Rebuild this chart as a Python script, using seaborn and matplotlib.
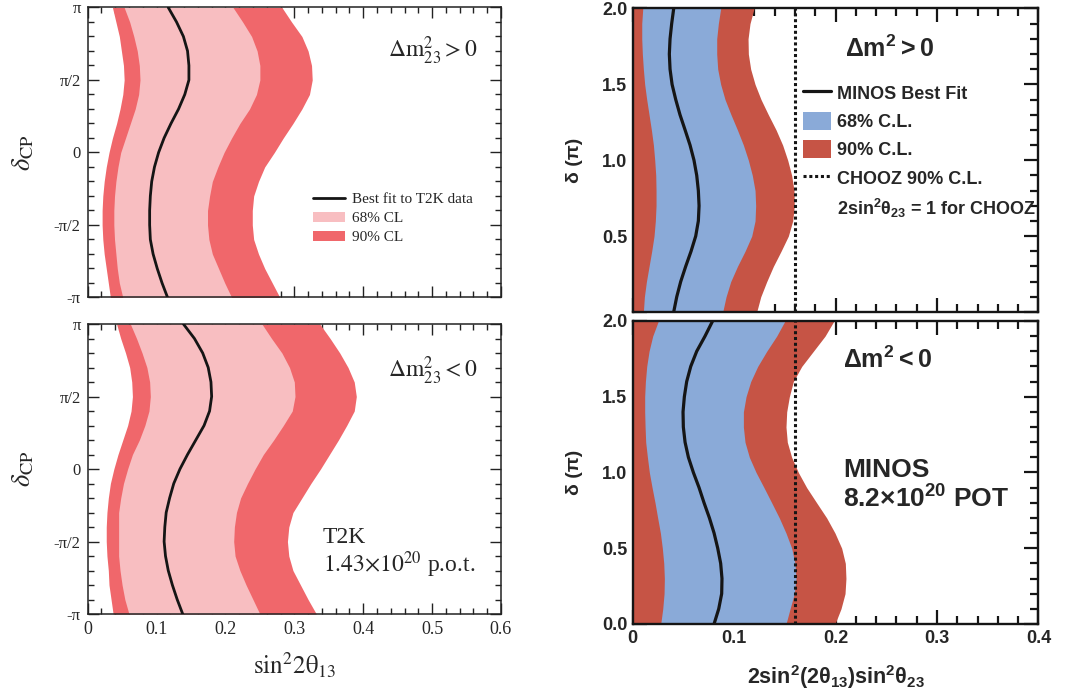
import numpy as np
import matplotlib
matplotlib.use("Agg")
import matplotlib.pyplot as plt
import seaborn as sns
from matplotlib.lines import Line2D
from matplotlib.patches import Patch
from matplotlib.ticker import MultipleLocator

sns.set_style("ticks")
plt.rcParams['font.family'] = ['Liberation Serif', 'DejaVu Serif']
plt.rcParams['mathtext.rm'] = 'Liberation Sans:bold'
plt.rcParams['mathtext.it'] = 'Liberation Sans:bold'
plt.rcParams['mathtext.bf'] = 'Liberation Sans:bold'

# ---------------- data: T2K (left) ----------------
# delta_CP in units of pi, from +1 to -1
t2k_delta_frac = [1.0, 0.9, 0.8, 0.7, 0.6, 0.5, 0.4, 0.3, 0.2, 0.1, 0.0,
                  -0.1, -0.2, -0.3, -0.4, -0.5, -0.6, -0.7, -0.8, -0.9, -1.0]

# normal hierarchy
t2k_nh_l90 = [0.036, 0.041, 0.046, 0.049, 0.052, 0.053, 0.051, 0.047, 0.042, 0.036, 0.031,
              0.027, 0.024, 0.022, 0.021, 0.021, 0.022, 0.024, 0.027, 0.030, 0.033]
t2k_nh_l68 = [0.053, 0.061, 0.067, 0.072, 0.075, 0.076, 0.074, 0.069, 0.062, 0.055, 0.048,
              0.044, 0.041, 0.039, 0.038, 0.038, 0.039, 0.041, 0.043, 0.046, 0.051]
t2k_nh_bf = [0.117, 0.129, 0.139, 0.145, 0.147, 0.147, 0.141, 0.132, 0.121, 0.111, 0.103,
             0.097, 0.093, 0.091, 0.090, 0.090, 0.091, 0.095, 0.101, 0.108, 0.116]
t2k_nh_r68 = [0.211, 0.225, 0.238, 0.246, 0.250, 0.250, 0.245, 0.235, 0.221, 0.209, 0.198,
              0.189, 0.181, 0.177, 0.174, 0.174, 0.176, 0.181, 0.190, 0.199, 0.209]
t2k_nh_r90 = [0.282, 0.296, 0.311, 0.320, 0.325, 0.326, 0.322, 0.311, 0.298, 0.284, 0.271,
              0.257, 0.248, 0.241, 0.239, 0.239, 0.241, 0.248, 0.257, 0.268, 0.279]

# inverted hierarchy
t2k_ih_l90 = [0.042, 0.048, 0.055, 0.061, 0.064, 0.065, 0.063, 0.058, 0.051, 0.044, 0.038,
              0.033, 0.030, 0.028, 0.027, 0.027, 0.028, 0.030, 0.031, 0.034, 0.037]
t2k_ih_l68 = [0.062, 0.071, 0.079, 0.086, 0.090, 0.091, 0.089, 0.083, 0.075, 0.065, 0.058,
              0.052, 0.048, 0.045, 0.045, 0.045, 0.045, 0.047, 0.050, 0.054, 0.060]
t2k_ih_bf = [0.139, 0.155, 0.167, 0.175, 0.179, 0.180, 0.177, 0.169, 0.157, 0.145, 0.134,
             0.125, 0.119, 0.114, 0.112, 0.111, 0.113, 0.117, 0.123, 0.130, 0.138]
t2k_ih_r68 = [0.253, 0.267, 0.282, 0.293, 0.300, 0.301, 0.297, 0.284, 0.270, 0.255, 0.243,
              0.232, 0.222, 0.216, 0.213, 0.212, 0.214, 0.221, 0.230, 0.240, 0.250]
t2k_ih_r90 = [0.337, 0.352, 0.366, 0.378, 0.387, 0.390, 0.387, 0.376, 0.364, 0.351, 0.338,
              0.324, 0.311, 0.298, 0.292, 0.290, 0.292, 0.298, 0.309, 0.320, 0.332]

# ---------------- data: MINOS (right) ----------------
minos_delta = [2.0, 1.9, 1.8, 1.7, 1.6, 1.5, 1.4, 1.3, 1.2, 1.1, 1.0,
               0.9, 0.8, 0.7, 0.6, 0.5, 0.4, 0.3, 0.2, 0.1, 0.0]

minos_nh_l68 = [0.0099, 0.0089, 0.0089, 0.0095, 0.0105, 0.0118, 0.0138, 0.0161, 0.0184, 0.0204, 0.0217,
                0.0227, 0.0230, 0.0230, 0.0223, 0.0210, 0.0187, 0.0161, 0.0135, 0.0115, 0.0105]
minos_nh_bf = [0.0404, 0.0384, 0.0368, 0.0361, 0.0368, 0.0388, 0.0424, 0.0466, 0.0516, 0.0565, 0.0604,
               0.0631, 0.0647, 0.0654, 0.0647, 0.0621, 0.0575, 0.0522, 0.0473, 0.0434, 0.0404]
minos_nh_r68 = [0.0867, 0.0844, 0.0828, 0.0828, 0.0838, 0.0867, 0.0910, 0.0969, 0.1032, 0.1091, 0.1140,
                0.1179, 0.1206, 0.1212, 0.1206, 0.1173, 0.1107, 0.1032, 0.0966, 0.0920, 0.0887]
minos_nh_r90 = [0.1196, 0.1156, 0.1137, 0.1140, 0.1163, 0.1206, 0.1265, 0.1337, 0.1413, 0.1478, 0.1528,
                0.1567, 0.1590, 0.1593, 0.1577, 0.1534, 0.1462, 0.1386, 0.1321, 0.1262, 0.1222]

minos_ih_l68 = [0.0253, 0.0197, 0.0161, 0.0138, 0.0125, 0.0118, 0.0118, 0.0122, 0.0128, 0.0145, 0.0164,
                0.0191, 0.0220, 0.0246, 0.0273, 0.0292, 0.0306, 0.0312, 0.0309, 0.0296, 0.0276]
minos_ih_bf = [0.0788, 0.0713, 0.0631, 0.0572, 0.0532, 0.0509, 0.0496, 0.0499, 0.0516, 0.0549, 0.0598,
               0.0654, 0.0703, 0.0756, 0.0802, 0.0838, 0.0867, 0.0880, 0.0877, 0.0848, 0.0802]
minos_ih_r68 = [0.1501, 0.1419, 0.1321, 0.1232, 0.1163, 0.1117, 0.1091, 0.1091, 0.1107, 0.1150, 0.1216,
                0.1294, 0.1370, 0.1445, 0.1511, 0.1567, 0.1600, 0.1610, 0.1593, 0.1551, 0.1511]
minos_ih_r90 = [0.1984, 0.1896, 0.1781, 0.1666, 0.1583, 0.1544, 0.1518, 0.1511, 0.1524, 0.1567, 0.1633,
                0.1715, 0.1813, 0.1912, 0.1994, 0.2060, 0.2096, 0.2102, 0.2093, 0.2053, 0.1994]

chooz_limit = 0.16

# tick labels
t2k_ytick_vals = [-1.0, -0.5, 0.0, 0.5, 1.0]
t2k_ytick_labels = ['-π', '-π/2', '0', 'π/2', 'π']
t2k_xtick_labels = ['0', '0.1', '0.2', '0.3', '0.4', '0.5', '0.6']
minos_xtick_labels = ['0', '0.1', '0.2', '0.3', '0.4']
minos_ytick_labels = ['0.0', '0.5', '1.0', '1.5', '2.0']

# ---------------- styles ----------------
T2K_68 = '#F8BEC1'
T2K_90 = '#F0676B'
MIN_68 = '#8AAAD8'
MIN_90 = '#C65445'

fig = plt.figure(figsize=(10.65, 6.91), dpi=100)
ax_lt = fig.add_axes([0.0823, 0.5695, 0.3881, 0.4197])
ax_lb = fig.add_axes([0.0823, 0.1114, 0.3881, 0.4197])
ax_rt = fig.add_axes([0.5941, 0.5485, 0.3810, 0.4392])
ax_rb = fig.add_axes([0.5941, 0.0970, 0.3810, 0.4385])

serif = dict(family='Liberation Serif', math_fontfamily='stix')
sans = dict(family='Liberation Sans', weight='bold', math_fontfamily='custom')

delta_rad = np.array(t2k_delta_frac) * np.pi


def t2k_panel(ax, l90, l68, bf, r68, r90, show_x):
    ax.fill_betweenx(delta_rad, l90, r90, color=T2K_90, lw=0, zorder=1)
    ax.fill_betweenx(delta_rad, l68, r68, color=T2K_68, lw=0, zorder=2)
    sns.lineplot(x=bf, y=delta_rad, orient='y', estimator=None, color='#151515',
                 lw=2.0, ax=ax, zorder=3)
    ax.set_xlim(0, 0.6)
    ax.set_ylim(-np.pi, np.pi)
    ax.set_yticks(np.array(t2k_ytick_vals) * np.pi)
    ax.set_yticklabels(t2k_ytick_labels, fontsize=12, family='Liberation Serif')
    ax.yaxis.set_minor_locator(MultipleLocator(np.pi / 10))
    ax.set_xticks([0, 0.1, 0.2, 0.3, 0.4, 0.5, 0.6])
    ax.xaxis.set_minor_locator(MultipleLocator(0.02))
    if show_x:
        ax.set_xticklabels(t2k_xtick_labels, fontsize=13, family='Liberation Serif')
        ax.set_xlabel(r'$\mathrm{sin^2 2\theta_{13}}$', fontsize=18, **serif)
        ax.xaxis.set_label_coords(0.5, -0.125)
    else:
        ax.set_xticklabels([])
        ax.set_xlabel('')
    ax.set_ylabel(r'$\delta_{\mathrm{CP}}$', fontsize=19, **serif)
    ax.yaxis.set_label_coords(-0.125, 0.5)
    ax.tick_params(which='both', direction='in', top=True, right=True,
                   width=1.0, color='#222222', pad=5)
    ax.tick_params(which='major', length=8)
    ax.tick_params(which='minor', length=4)
    for s in ax.spines.values():
        s.set_linewidth(1.1)
        s.set_color('#222222')


t2k_panel(ax_lt, t2k_nh_l90, t2k_nh_l68, t2k_nh_bf, t2k_nh_r68, t2k_nh_r90, False)
t2k_panel(ax_lb, t2k_ih_l90, t2k_ih_l68, t2k_ih_bf, t2k_ih_r68, t2k_ih_r90, True)

ax_lt.text(0.727, 0.826, r'$\Delta\mathrm{m}^2_{23} > 0$', transform=ax_lt.transAxes,
           fontsize=17, ha='left', va='baseline', **serif)
ax_lb.text(0.727, 0.815, r'$\Delta\mathrm{m}^2_{23} < 0$', transform=ax_lb.transAxes,
           fontsize=17, ha='left', va='baseline', **serif)
ax_lb.text(0.569, 0.244, 'T2K', transform=ax_lb.transAxes,
           fontsize=17, ha='left', va='baseline', **serif)
ax_lb.text(0.569, 0.144, r'$\mathrm{1.43{\times}10^{20}}$ p.o.t.', transform=ax_lb.transAxes,
           fontsize=17, ha='left', va='baseline', **serif)

h_left = [Line2D([], [], color='#151515', lw=2.0),
          Patch(facecolor=T2K_68, edgecolor='none'),
          Patch(facecolor=T2K_90, edgecolor='none')]
ax_lt.legend(h_left, ['Best fit to T2K data', '68% CL', '90% CL'],
             loc='upper left', bbox_to_anchor=(0.545, 0.361), frameon=False,
             borderpad=0, borderaxespad=0, handlelength=2.1, handleheight=0.65,
             handletextpad=0.45, labelspacing=0.36,
             prop=dict(family='Liberation Serif', size=11))


def minos_panel(ax, l68, bf, r68, r90, show_x, show_zero):
    ax.fill_betweenx(minos_delta, 0, r90, color=MIN_90, lw=0, zorder=1)
    ax.fill_betweenx(minos_delta, l68, r68, color=MIN_68, lw=0, zorder=2)
    sns.lineplot(x=bf, y=minos_delta, orient='y', estimator=None, color='#151515',
                 lw=2.3, ax=ax, zorder=3)
    ax.axvline(chooz_limit, color='#151515', lw=2.2, ls=(0, (1, 0.9)), zorder=4)
    ax.set_xlim(0, 0.4)
    ax.set_ylim(0, 2.0)
    ax.set_xticks([0, 0.1, 0.2, 0.3, 0.4])
    ax.xaxis.set_minor_locator(MultipleLocator(0.02))
    ax.set_yticks([0, 0.5, 1.0, 1.5, 2.0])
    ax.yaxis.set_minor_locator(MultipleLocator(0.1))
    ylabs = list(minos_ytick_labels)
    if not show_zero:
        ylabs[0] = ''
    ax.set_yticklabels(ylabs, fontsize=13, family='Liberation Sans', weight='bold')
    if show_x:
        ax.set_xticklabels(minos_xtick_labels, fontsize=13, family='Liberation Sans',
                           weight='bold')
        ax.set_xlabel(r'$\mathrm{2sin^2(2\theta_{13})sin^2\theta_{23}}$', fontsize=15.5, **sans)
        ax.xaxis.set_label_coords(0.5, -0.128)
    else:
        ax.set_xticklabels([])
        ax.set_xlabel('')
    ax.set_ylabel('δ (π)', fontsize=14, family='Liberation Sans', weight='bold')
    ax.yaxis.set_label_coords(-0.122, 0.5)
    ax.tick_params(which='both', direction='in', top=True, right=True,
                   width=1.6, color='#151515', pad=4)
    ax.tick_params(which='major', length=10)
    ax.tick_params(which='minor', length=6)
    for s in ax.spines.values():
        s.set_linewidth(1.7)
        s.set_color('#151515')


minos_panel(ax_rt, minos_nh_l68, minos_nh_bf, minos_nh_r68, minos_nh_r90, False, False)
minos_panel(ax_rb, minos_ih_l68, minos_ih_bf, minos_ih_r68, minos_ih_r90, True, True)

ax_rt.text(0.523, 0.840, r'$\mathrm{\Delta m^2 > 0}$', transform=ax_rt.transAxes,
           fontsize=18, ha='left', va='baseline', **sans)
ax_rb.text(0.518, 0.845, r'$\mathrm{\Delta m^2 < 0}$', transform=ax_rb.transAxes,
           fontsize=18, ha='left', va='baseline', **sans)
ax_rb.text(0.518, 0.485, 'MINOS', transform=ax_rb.transAxes,
           fontsize=19, ha='left', va='baseline', family='Liberation Sans', weight='bold')
ax_rb.text(0.518, 0.385, r'$\mathrm{8.2{\times}10^{20}}$ POT', transform=ax_rb.transAxes,
           fontsize=19, ha='left', va='baseline', **sans)

h_right = [Line2D([], [], color='#151515', lw=2.3),
           Patch(facecolor=MIN_68, edgecolor='none'),
           Patch(facecolor=MIN_90, edgecolor='none'),
           Line2D([], [], color='#151515', lw=2.2, ls=(0, (1, 0.9))),
           Line2D([], [], color='none')]
ax_rt.legend(h_right, ['MINOS Best Fit', '68% C.L.', '90% C.L.', 'CHOOZ 90% C.L.',
                       r'$\mathrm{2sin^2\theta_{23}}$ = 1 for CHOOZ'],
             loc='upper left', bbox_to_anchor=(0.419, 0.754), frameon=False,
             borderpad=0, borderaxespad=0, handlelength=1.55, handleheight=1.2,
             handletextpad=0.35, labelspacing=0.5,
             prop=dict(family='Liberation Sans', weight='bold', size=13, math_fontfamily='custom'))

fig.savefig('out.png', dpi=100)
